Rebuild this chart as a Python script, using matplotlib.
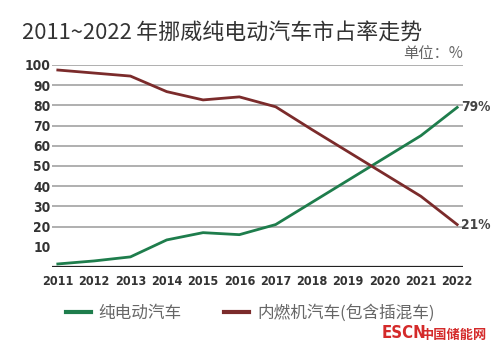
import matplotlib
matplotlib.use('Agg')
import matplotlib.pyplot as plt
from matplotlib.lines import Line2D

plt.rcParams['font.family'] = ['Noto Sans CJK SC', 'DejaVu Sans']

years = [2011, 2012, 2013, 2014, 2015, 2016, 2017, 2018, 2019, 2020, 2021, 2022]
bev = [1.5, 3, 5, 13.4, 17, 16, 21, 32, 43, 54, 65, 79]
ice = [97.5, 96, 94.5, 86.8, 82.7, 84.2, 79.3, 68, 57, 46, 35, 21]
yticks = [10, 20, 30, 40, 50, 60, 70, 80, 90, 100]

green = '#1e7d4c'
red = '#7b2b2b'
numfont = dict(family=['DejaVu Sans'], stretch='condensed', weight='bold')

fig = plt.figure(figsize=(5, 3.43), dpi=100)
ax = fig.add_axes([0.104, 0.2216, 0.822, 0.589])

for v in yticks:
    if v >= 20:
        ax.axhline(v, color='#9a9a9a', lw=1.1, zorder=1)
ax.axhline(0, color='#222222', lw=1.6, zorder=2)

ax.plot(years, bev, color=green, lw=2, zorder=3)
ax.plot(years, ice, color=red, lw=2, zorder=3)

ax.set_xlim(2010.84, 2022.16)
ax.set_ylim(0, 100)
ax.set_xticks(years)
ax.set_xticklabels([str(y) for y in years], color='#333333', fontsize=9, **numfont)
ax.set_yticks(yticks)
ax.set_yticklabels([str(v) for v in yticks], color='#333333', fontsize=9.8, **numfont)
ax.tick_params(length=0, axis='y', pad=1)
ax.tick_params(length=0, axis='x', pad=6)
for s in ax.spines.values():
    s.set_visible(False)

ax.text(years[-1] + 0.1, bev[-1], f'{bev[-1]:.0f}%', color='#444444', fontsize=9.8,
        va='center', ha='left', **numfont)
ax.text(years[-1] + 0.1, ice[-1], f'{ice[-1]:.0f}%', color='#444444', fontsize=9.8,
        va='center', ha='left', **numfont)

fig.text(0.044, 0.905, '2011~2022\u2009年挪威纯电动汽车市占率走势', fontsize=15.8,
         color='#333333', ha='left', va='center')
fig.text(0.926, 0.845, '单位：%', fontsize=11, color='#666666', ha='right', va='center')

handles = [Line2D([], [], color=green, lw=3), Line2D([], [], color=red, lw=3)]
leg = fig.legend(handles, ['纯电动汽车', '内燃机汽车(包含插混车)'], loc='center',
                 bbox_to_anchor=(0.5, 0.086), ncol=2, frameon=False, fontsize=12,
                 handlelength=1.5, handletextpad=0.5, columnspacing=2.5)
for t in leg.get_texts():
    t.set_color('#666666')

fig.text(0.975, 0.004, '中国储能网', fontsize=9.5, color='#d42a2a', weight='bold',
         ha='right', va='bottom')
fig.text(0.852, 0.004, 'ESCN', fontsize=12, color='#d42a2a', weight='bold',
         ha='right', va='bottom', family=['DejaVu Sans'], stretch='condensed')

fig.savefig('out.png', dpi=100, facecolor='white')
